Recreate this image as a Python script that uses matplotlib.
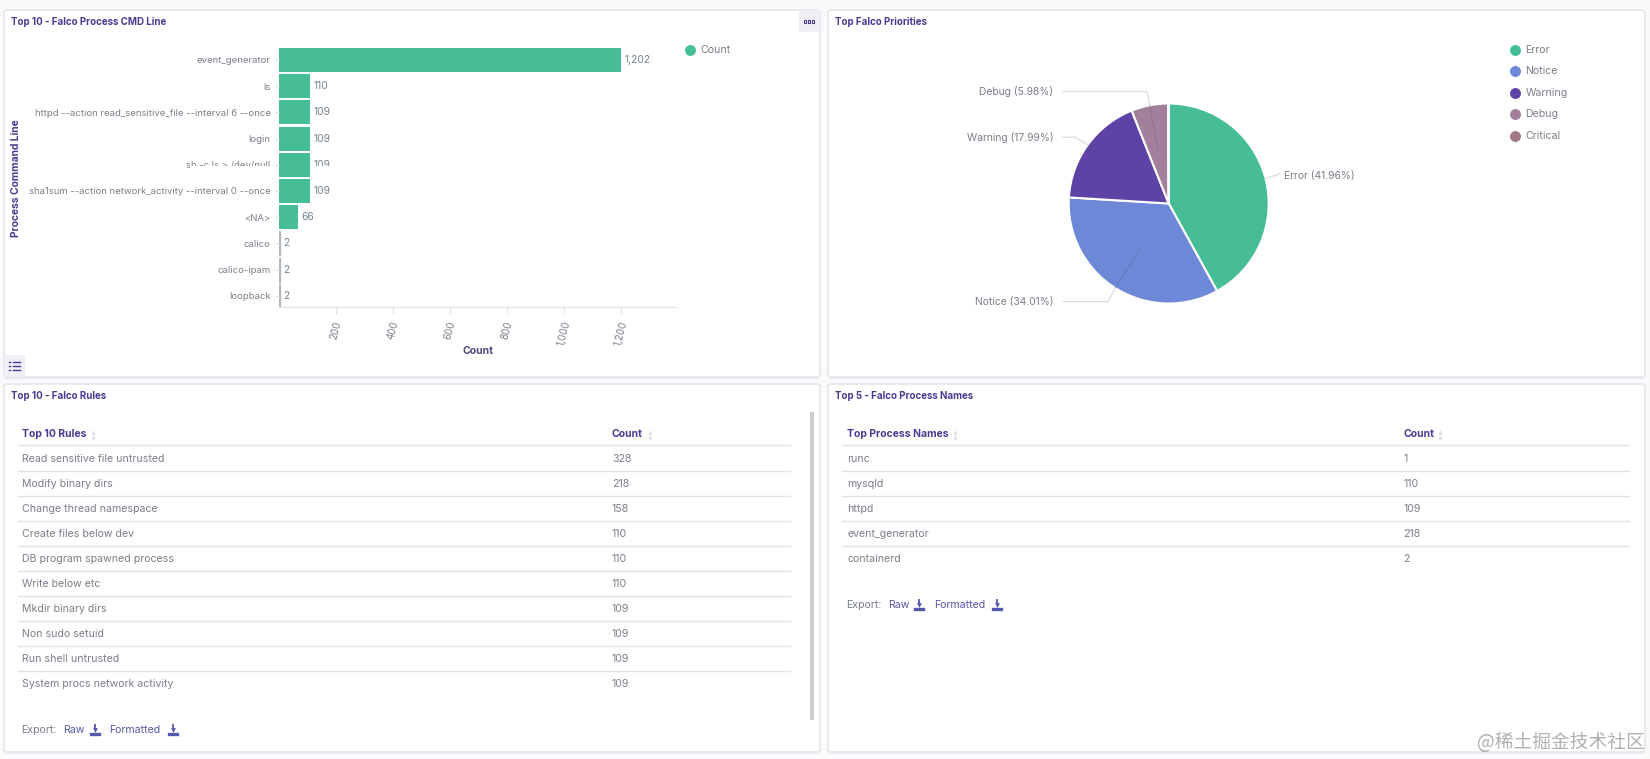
import numpy as np
import matplotlib
matplotlib.use('Agg')
import matplotlib.pyplot as plt
from matplotlib.patches import FancyBboxPatch, Rectangle

plt.rcParams['font.family'] = ['Inter', 'DejaVu Sans']

cmd_labels = ['event_generator', 'ls', 'httpd --action read_sensitive_file --interval 6 --once',
              'login', 'sh -c ls > /dev/null', 'sha1sum --action network_activity --interval 0 --once',
              '<NA>', 'calico', 'calico-ipam', 'loopback']
cmd_counts = [1202, 110, 109, 109, 109, 109, 66, 2, 2, 2]
count_ticks = [200, 400, 600, 800, 1000, 1200]

priority_names = ['Error', 'Notice', 'Warning', 'Debug', 'Critical']
priority_shares = [41.96, 34.01, 17.99, 5.98, 0.06]
priority_colors = ['#47bd97', '#6d88d6', '#5d43a6', '#a27f9a', '#a27888']

rule_names = ['Read sensitive file untrusted', 'Modify binary dirs', 'Change thread namespace',
              'Create files below dev', 'DB program spawned process', 'Write below etc',
              'Mkdir binary dirs', 'Non sudo setuid', 'Run shell untrusted',
              'System procs network activity']
rule_counts = [328, 218, 158, 110, 110, 110, 109, 109, 109, 109]

process_names = ['runc', 'mysqld', 'httpd', 'event_generator', 'containerd']
process_counts = [1, 110, 109, 218, 2]

W, H = 1650, 759
PURPLE = '#4a3a94'
GREY = '#7a7f89'
LINE = '#dfe1e6'
BLUE = '#5358a8'


def px_axes(fig, left, top, right, bottom, **kw):
    return fig.add_axes([left / W, 1 - bottom / H, (right - left) / W, (bottom - top) / H], **kw)


def panel(ax, x0, y0, x1, y1, title):
    ax.add_patch(FancyBboxPatch((x0, y0), x1 - x0, y1 - y0, boxstyle='round,pad=0,rounding_size=3',
                                fc='white', ec='#e4e6ea', lw=1.2))
    ax.plot([x0 + 2, x1 - 2], [y1 + 1, y1 + 1], color='#e6e8ec', lw=1.4)
    ax.text(x0 + 7, y0 + 12.3, title, color=PURPLE, fontsize=7, fontweight='bold', va='center')


def download_icon(ax, x, y):
    ax.scatter([x], [y - 0.5], marker='v', s=12, color=BLUE, lw=0)
    ax.plot([x, x], [y - 5, y - 1], color=BLUE, lw=1.3)
    ax.plot([x - 4, x + 4], [y + 3.5, y + 3.5], color=BLUE, lw=2.4)


def sort_arrows(ax, x, y):
    ax.scatter([x, x], [y - 2.5, y + 2.5], marker='^', s=9, color='#dadde3', lw=0)


def table(ax, x_text, x_count, x_line0, x_line1, x_sort0, x_sort1, header, names, counts):
    y_head = 434.3
    row0 = 459
    step = 25.05
    ax.text(x_text, y_head, header, color=PURPLE, fontsize=7.5, fontweight='bold', va='center')
    ax.text(x_count, y_head, 'Count', color=PURPLE, fontsize=7.5, fontweight='bold', va='center')
    sort_arrows(ax, x_sort0, y_head)
    sort_arrows(ax, x_sort1, y_head)
    ax.plot([x_line0, x_line1], [445.3, 445.3], color=LINE, lw=1)
    for i, (name, count) in enumerate(zip(names, counts)):
        y = row0 + i * step
        ax.text(x_text, y, name, color=GREY, fontsize=7.6, va='center')
        ax.text(x_count, y, str(count), color=GREY, fontsize=7.6, va='center')
        if i < len(names) - 1:
            ax.plot([x_line0, x_line1], [y + 11.5, y + 11.5], color=LINE, lw=1)


def export_row(ax, x, y):
    ax.text(x, y, 'Export:', color=GREY, fontsize=7.6, va='center')
    ax.text(x + 42, y, 'Raw', color=BLUE, fontsize=7.6, va='center')
    download_icon(ax, x + 73, y)
    ax.text(x + 88, y, 'Formatted', color=BLUE, fontsize=7.6, va='center')
    download_icon(ax, x + 151, y)


def legend_dot(ax, x, y, color, label):
    ax.scatter([x], [y], s=62, color=color, lw=0)
    ax.text(x + 11, y, label, color=GREY, fontsize=7.6, va='center')


fig = plt.figure(figsize=(W / 100, H / 100), dpi=100, facecolor='#f9fafb')

base = fig.add_axes([0, 0, 1, 1], zorder=0)
base.set_xlim(0, W)
base.set_ylim(H, 0)
base.axis('off')

top = fig.add_axes([0, 0, 1, 1], zorder=5)
top.set_xlim(0, W)
top.set_ylim(H, 0)
top.axis('off')

panel(base, 4, 10, 820, 377, 'Top 10 - Falco Process CMD Line')
panel(base, 828, 10, 1645, 377, 'Top Falco Priorities')
panel(base, 4, 384, 820, 752, 'Top 10 - Falco Rules')
panel(base, 828, 384, 1645, 752, 'Top 5 - Falco Process Names')

# panel buttons
base.add_patch(Rectangle((798.5, 10), 21.5, 22, fc='#eef0f5', ec='none'))
for bx in [805, 809, 813]:
    base.add_patch(Rectangle((bx - 1.3, 19.5), 2.6, 3, fc='white', ec=PURPLE, lw=0.8))
base.add_patch(Rectangle((4, 355), 21, 22, fc='#eef0f5', ec='none'))
for by in [361.7, 365.7, 369.7]:
    base.plot([8.5, 10], [by, by], color=PURPLE, lw=1)
    base.plot([12.5, 19.5], [by, by], color=PURPLE, lw=1)

# bar chart
ax = px_axes(fig, 279, 46.9, 676, 307.3, zorder=1)
ax.patch.set_alpha(0)
y_pos = np.arange(len(cmd_labels))
bars = ax.barh(y_pos, cmd_counts, height=0.92, color='#47bd97')
for bar, count in zip(bars, cmd_counts):
    if count < 5:  # too thin to show green, they come out as grey slivers
        bar.set_edgecolor('#b4b8bd')
        bar.set_linewidth(1)
ax.set_xlim(0, 1395)
ax.set_ylim(9.44, -0.5)
ax.set_yticks(y_pos, cmd_labels)
ax.set_xticks(count_ticks, [f'{v:,}' for v in count_ticks])
ax.tick_params(axis='y', length=3, width=0.8, color=LINE, labelcolor=GREY, labelsize=6.85, pad=3)
ax.tick_params(axis='x', length=5, width=0.8, color=LINE, labelcolor=GREY, labelsize=7, pad=4)
for lab in ax.get_xticklabels():
    lab.set_rotation(75)
    lab.set_ha('center')
    lab.set_va('top')
ax.bar_label(bars, labels=[f'{v:,}' for v in cmd_counts], padding=2.5, color='#75858f', fontsize=7.4)
for s in ['top', 'right', 'left']:
    ax.spines[s].set_visible(False)
ax.spines['bottom'].set_color(LINE)
base.text(478, 351.5, 'Count', color='#4f4a80', fontsize=7.6, fontweight='bold', ha='center', va='center')
base.text(16, 178, 'Process Command Line', color=PURPLE, fontsize=7.4, fontweight='bold',
          rotation=90, ha='center', va='center')
legend_dot(base, 689.5, 50, '#47bd97', 'Count')

# the screenshot cuts off the lower half of this row's texts
top.add_patch(Rectangle((190, 165.5), 85, 7, fc='white', ec='none'))
top.add_patch(Rectangle((312, 165.5), 30, 7, fc='white', ec='none'))

# pie chart
cx, cy, r = 1168.7, 203.5, 100
pie_ax = px_axes(fig, cx - r, cy - r, cx + r, cy + r, zorder=1)
pie_ax.pie(priority_shares, colors=priority_colors, startangle=90, counterclock=False, radius=1,
           wedgeprops=dict(edgecolor='white', linewidth=1.5, clip_on=False))
pie_ax.set_xlim(-1, 1)
pie_ax.set_ylim(-1, 1)

# labels sit at fixed places, leaders start from the slice middles
label_spots = {'Error': (1284.5, 175.5, 1280, 173.7, 'left'),
               'Notice': (1053.4, 301.5, 1108, 301.5, 'right'),
               'Warning': (1053.4, 137.2, 1075, 137.2, 'right'),
               'Debug': (1053.4, 91.5, 1147, 91.5, 'right')}
dotted_leaders = ['Notice', 'Debug']
start = 0
for name, share in zip(priority_names, priority_shares):
    mid = np.radians((start + share / 2) * 3.6)
    start += share
    if name not in label_spots:
        continue
    tx, ty, ex, ey, ha = label_spots[name]
    edge = (cx + r * np.sin(mid), cy - r * np.cos(mid))
    inner = (cx + r * 0.55 * np.sin(mid), cy - r * 0.55 * np.cos(mid))
    base.text(tx, ty, f'{name} ({share:.2f}%)', color=GREY, fontsize=7.45, ha=ha, va='center')
    if ha == 'right':
        top.plot([tx + 10, ex, edge[0]], [ty, ey, edge[1]], color='#dcdfe4', lw=1)
    else:
        top.plot([edge[0], ex], [edge[1], ey], color='#dcdfe4', lw=1)
    if name in dotted_leaders:
        top.plot([inner[0], edge[0]], [inner[1], edge[1]], color='#4a5578', lw=0.5, ls=':')

for i, (name, color) in enumerate(zip(priority_names, priority_colors)):
    legend_dot(base, 1514.5, 50 + i * 21.4, color, name)

# tables
table(base, 22, 612, 18, 790, 93, 649.5, 'Top 10 Rules', rule_names, rule_counts)
table(base, 847, 1403, 842, 1629, 955, 1440, 'Top Process Names', process_names, process_counts)
export_row(base, 21.6, 730)
export_row(base, 846, 605)
base.add_patch(Rectangle((810, 412), 4, 308, fc='#cbcdd0', ec='none'))

# watermark from the site that hosted the screenshot
top.text(1645, 742.5, '@稀土掘金技术社区', color='#b0b0b0', fontsize=13.5, ha='right', va='center',
         family=['Noto Sans CJK SC', 'DejaVu Sans'])

fig.savefig('out.png', dpi=100, facecolor=fig.get_facecolor())
